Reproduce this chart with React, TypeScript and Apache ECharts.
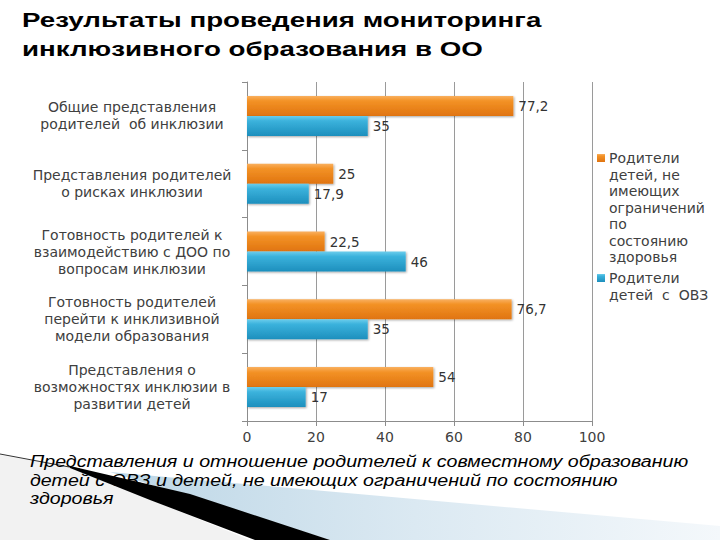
import React, { useEffect, useRef } from "react";
import * as echarts from "echarts";

const categories = [
  "Общие представления\nродителей  об инклюзии",
  "Представления родителей\nо рисках инклюзии",
  "Готовность родителей к\nвзаимодействию с ДОО по\nвопросам инклюзии",
  "Готовность родителей\nперейти к инклизивной\nмодели образования",
  "Представления о\nвозможностях инклюзии в\nразвитии детей",
];
const seriesNames = [
  "Родители детей, не имеющих ограничений по состоянию здоровья",
  "Родители детей с ОВЗ",
];
const legendLines = [
  "Родители\nдетей, не\nимеющих\nограничений\nпо\nсостоянию\nздоровья",
  "Родители\nдетей  с  ОВЗ",
];
const valuesNoLimits = [77.2, 25, 22.5, 76.7, 54];
const valuesOVZ = [35, 17.9, 46, 35, 17];
const xTicks = [0, 20, 40, 60, 80, 100];

const title = "Результаты проведения мониторинга\nинклюзивного образования в ОО";
const subtitle =
  "Представления и отношение родителей к совместному образованию\nдетей с ОВЗ и детей, не имеющих ограничений по состоянию\nздоровья";

const FONT = "DejaVu Sans";
const ORANGE = new echarts.graphic.LinearGradient(0, 0, 0, 1, [
  { offset: 0, color: "#f9b060" },
  { offset: 0.25, color: "#f39226" },
  { offset: 1, color: "#e07410" },
]);
const BLUE = new echarts.graphic.LinearGradient(0, 0, 0, 1, [
  { offset: 0, color: "#6ccdec" },
  { offset: 0.25, color: "#3bb2dc" },
  { offset: 1, color: "#1d8fbd" },
]);

export default function App() {
  const ref = useRef<HTMLDivElement>(null);
  useEffect(() => {
    if (!ref.current) return;
    const chart = echarts.init(ref.current, null, { renderer: "svg" });
    const fmt = (v: number) => String(v).replace(".", ",");
    const labelStyle = {
      show: true,
      position: "right" as const,
      distance: 5,
      fontFamily: FONT,
      fontSize: 13.5,
      color: "#333",
      formatter: (p: any) => fmt(p.value),
    };
    chart.setOption({
      animation: false,
      backgroundColor: "#ffffff",
      grid: { left: 247, top: 82, width: 345, height: 339, containLabel: false },
      xAxis: {
        type: "value",
        min: xTicks[0],
        max: xTicks[xTicks.length - 1],
        interval: 20,
        axisLine: { show: true, lineStyle: { color: "#8c8c8c" } },
        axisTick: { show: true, length: 5, lineStyle: { color: "#8c8c8c" } },
        axisLabel: { fontFamily: FONT, fontSize: 14, color: "#404040", margin: 9 },
        splitLine: { show: true, lineStyle: { color: "#9a9a9a" } },
      },
      yAxis: {
        type: "category",
        inverse: true,
        data: categories,
        axisLine: { show: true, lineStyle: { color: "#8c8c8c" } },
        axisTick: { show: true, length: 5, lineStyle: { color: "#8c8c8c" } },
        axisLabel: {
          margin: 12,
          formatter: (v: string) =>
            v
              .split("\n")
              .map((l) => "{a|" + l + "}")
              .join("\n"),
          rich: {
            a: {
              width: 206,
              align: "center",
              fontFamily: FONT,
              fontSize: 14,
              lineHeight: 17,
              color: "#404040",
            },
          },
        },
      },
      series: [
        {
          name: seriesNames[0],
          type: "bar",
          data: valuesNoLimits,
          barWidth: 20,
          barGap: "0%",
          itemStyle: { color: ORANGE, shadowColor: "rgba(0,0,0,0.35)", shadowBlur: 2, shadowOffsetX: 1, shadowOffsetY: 1 },
          label: labelStyle,
        },
        {
          name: seriesNames[1],
          type: "bar",
          data: valuesOVZ,
          barWidth: 20,
          barGap: "0%",
          itemStyle: { color: BLUE, shadowColor: "rgba(0,0,0,0.35)", shadowBlur: 2, shadowOffsetX: 1, shadowOffsetY: 1 },
          label: labelStyle,
        },
      ],
      graphic: [
        // decorative background shapes (bottom-left)
        {
          type: "polygon",
          z: -10,
          shape: { points: [[0, 455], [70, 467], [250, 540], [0, 540]] },
          style: { fill: "#f2f2f2" },
        },
        {
          type: "polygon",
          z: -9,
          shape: { points: [[110, 472], [720, 526], [720, 540], [330, 540]] },
          style: {
            fill: new echarts.graphic.LinearGradient(0, 0, 1, 0, [
              { offset: 0, color: "#bcd6e6" },
              { offset: 0.5, color: "#dbe9f2" },
              { offset: 1, color: "#f4f8fb" },
            ]),
          },
        },
        {
          type: "line",
          z: -8,
          shape: { x1: 0, y1: 454, x2: 80, y2: 469 },
          style: { stroke: "#333", lineWidth: 1 },
        },
        {
          type: "polygon",
          z: -8,
          shape: { points: [[70, 466], [190, 494], [330, 540], [255, 540], [150, 500], [70, 468]] },
          style: { fill: "#000" },
        },
        // title
        {
          type: "text",
          left: 22,
          top: 6,
          scaleX: 1.32,
          style: {
            text: title,
            fontFamily: "Liberation Sans",
            fontWeight: "bold",
            fontSize: 21,
            lineHeight: 28.5,
            fill: "#000",
          },
        },
        // subtitle
        {
          type: "text",
          left: 30,
          top: 452,
          scaleX: 1.155,
          style: {
            text: subtitle,
            fontFamily: "Liberation Sans",
            fontStyle: "italic",
            fontSize: 17,
            lineHeight: 18.5,
            fill: "#000",
          },
        },
        // legend
        {
          type: "rect",
          shape: { x: 597, y: 154, width: 8, height: 8 },
          style: { fill: ORANGE },
        },
        {
          type: "text",
          x: 609,
          y: 150,
          style: {
            text: legendLines[0],
            fontFamily: FONT,
            fontSize: 14,
            lineHeight: 16.5,
            fill: "#404040",
          },
        },
        {
          type: "rect",
          shape: { x: 597, y: 274, width: 8, height: 8 },
          style: { fill: BLUE },
        },
        {
          type: "text",
          x: 609,
          y: 270,
          style: {
            text: legendLines[1],
            fontFamily: FONT,
            fontSize: 14,
            lineHeight: 16.5,
            fill: "#404040",
          },
        },
      ],
    });
    return () => chart.dispose();
  }, []);
  return (
    <div
      ref={ref}
      style={{ position: "fixed", left: 0, top: 0, width: 720, height: 540 }}
    />
  );
}
